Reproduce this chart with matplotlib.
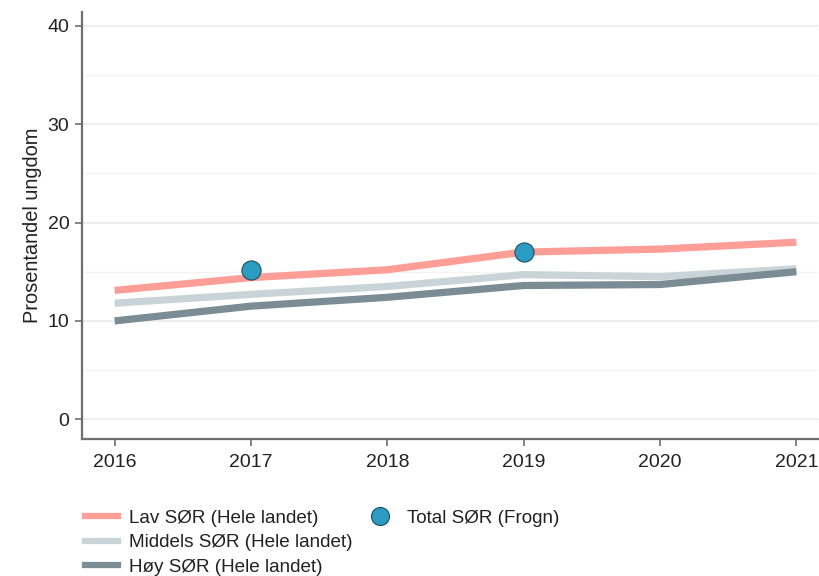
import matplotlib
matplotlib.use("Agg")
import matplotlib.pyplot as plt
from matplotlib.lines import Line2D

plt.rcParams['font.family'] = ['Liberation Sans', 'DejaVu Sans']

years = [2016, 2017, 2018, 2019, 2020, 2021]
lav = [13.1, 14.4, 15.2, 17.0, 17.3, 18.0]
middels = [11.8, 12.7, 13.5, 14.7, 14.5, 15.3]
hoy = [10.0, 11.5, 12.4, 13.6, 13.7, 15.0]
total_years = [2017, 2019]
total = [15.2, 17.0]

series_labels = ["Lav SØR (Hele landet)", "Middels SØR (Hele landet)", "Høy SØR (Hele landet)"]
total_label = "Total SØR (Frogn)"
ylabel = "Prosentandel ungdom"

c_lav = "#FF9D97"
c_mid = "#C9D4D8"
c_hoy = "#7B8C95"
c_dot = "#2B9BC1"

fig = plt.figure(figsize=(8.19, 5.76), dpi=100)
ax = fig.add_axes([0.100, 0.238, 0.899, 0.741])

ax.set_ylim(-2.0, 41.4)
ax.set_xlim(2015.76, 2021.16)
ax.set_yticks([0, 10, 20, 30, 40])
ax.set_yticks([5, 15, 25, 35], minor=True)
ax.set_xticks(years)
ax.grid(True, which='major', axis='y', color='#EBEBEB', lw=1.2)
ax.grid(True, which='minor', axis='y', color='#F3F3F3', lw=1.0)
ax.set_axisbelow(True)

ax.plot(years, lav, color=c_lav, lw=5.2, solid_capstyle='butt', zorder=3)
ax.plot(years, middels, color=c_mid, lw=5.2, solid_capstyle='butt', zorder=3)
ax.plot(years, hoy, color=c_hoy, lw=5.2, solid_capstyle='butt', zorder=3)
ax.scatter(total_years, total, s=190, color=c_dot, edgecolor='#1E4F60', lw=0.8, zorder=5)

for s in ['top', 'right']:
    ax.spines[s].set_visible(False)
for s in ['left', 'bottom']:
    ax.spines[s].set_color('#6E6E6E')
    ax.spines[s].set_linewidth(1.6)
ax.tick_params(axis='both', which='major', length=5, width=1.2, color='#6E6E6E',
               labelsize=14, labelcolor='#222222', pad=4)
ax.tick_params(axis='x', which='major', pad=6)
ax.tick_params(axis='y', which='minor', length=0)
ax.set_ylabel(ylabel, fontsize=14.4, color='#222222', labelpad=4)

blank = Line2D([], [], color='none')
handles = [
    Line2D([], [], color=c_lav, lw=4.5),
    Line2D([], [], color=c_mid, lw=4.5),
    Line2D([], [], color=c_hoy, lw=4.5),
    Line2D([], [], ls='none', marker='o', markersize=13, markerfacecolor=c_dot, markeredgecolor='#1E4F60', markeredgewidth=0.8),
    blank, blank,
]
labels = series_labels + [total_label, "", ""]
fig.legend(handles, labels, ncol=2, loc='upper left', bbox_to_anchor=(0.104, 0.115),
           frameon=False, fontsize=13.6, handlelength=1.75, handletextpad=0.55,
           columnspacing=0.6, labelspacing=0.385, borderaxespad=0, borderpad=0,
           labelcolor='#222222')

fig.savefig("out.png", dpi=100)
